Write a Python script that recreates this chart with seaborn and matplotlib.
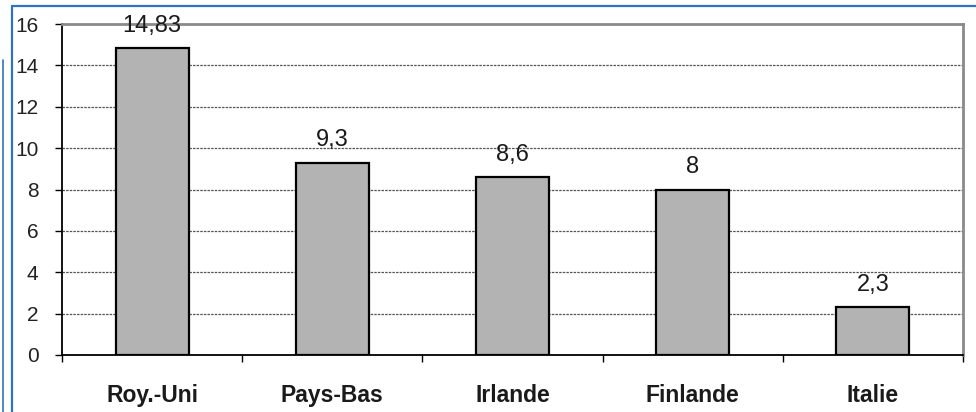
import matplotlib
matplotlib.use("Agg")
import matplotlib.pyplot as plt
from matplotlib.lines import Line2D
from matplotlib.ticker import FixedLocator
import seaborn as sns
import pandas as pd

# Data
countries = ["Roy.-Uni", "Pays-Bas", "Irlande", "Finlande", "Italie"]
values = [14.83, 9.3, 8.6, 8, 2.3]
y_ticks = [0, 2, 4, 6, 8, 10, 12, 14, 16]

sns.set_theme(style="white")
plt.rcParams["font.family"] = ["Liberation Sans", "DejaVu Sans"]

df = pd.DataFrame({"pays": countries, "valeur": values})

fig = plt.figure(figsize=(9.76, 4.12), dpi=100)
ax = fig.add_axes([62 / 976, 57 / 412, (963 - 62) / 976, (355 - 24) / 412])

sns.barplot(data=df, x="pays", y="valeur", color="#b3b3b3", saturation=1,
            width=0.405, edgecolor="black", linewidth=1.6, ax=ax, zorder=3)

ax.set_xlim(-0.5, len(countries) - 0.5)
ax.set_ylim(0, 16)
ax.set_yticks(y_ticks)
ax.set_yticklabels([str(t) for t in y_ticks])
ax.set_xlabel("")
ax.set_ylabel("")

# Dashed horizontal gridlines
ax.yaxis.grid(True, linestyle=(0, (2.0, 0.9)), color="#555555", linewidth=0.9, zorder=0)
ax.xaxis.grid(False)
ax.set_axisbelow(True)

# Value labels with a decimal comma
labels = [f"{v:g}".replace(".", ",") for v in values]
ax.bar_label(ax.containers[0], labels=labels, padding=8, fontsize=17, color="#1a1a1a")

# Axis styling
ax.tick_params(axis="y", direction="out", length=5, width=1.0, color="black",
               pad=12, labelsize=15, labelcolor="#222222", left=True)
ax.tick_params(axis="x", which="major", length=0, pad=21, labelsize=16.5,
               labelcolor="#1a1a1a")
for lab in ax.get_xticklabels():
    lab.set_fontweight("bold")
ax.xaxis.set_minor_locator(FixedLocator([i - 0.5 for i in range(len(countries) + 1)]))
ax.tick_params(axis="x", which="minor", direction="out", length=5, width=1.0,
               color="black", bottom=True)

for side in ("left", "bottom"):
    ax.spines[side].set_color("black")
    ax.spines[side].set_linewidth(1.3)
for side in ("top", "right"):
    ax.spines[side].set_color("#8a8a8a")
    ax.spines[side].set_linewidth(2.0)
    ax.spines[side].set_visible(True)

# Blue frame around the figure
W, H = 976, 412
fig.add_artist(Line2D([12 / W, 1.0], [1 - 6 / H, 1 - 6 / H], transform=fig.transFigure,
                      color="#2f74c0", linewidth=1.6))
fig.add_artist(Line2D([12 / W, 12 / W], [0, 1 - 6 / H], transform=fig.transFigure,
                      color="#2f74c0", linewidth=1.6))
fig.add_artist(Line2D([2.5 / W, 2.5 / W], [0, 1 - 60 / H], transform=fig.transFigure,
                      color="#2f74c0", linewidth=1.2))

fig.savefig("out.png", dpi=100)
